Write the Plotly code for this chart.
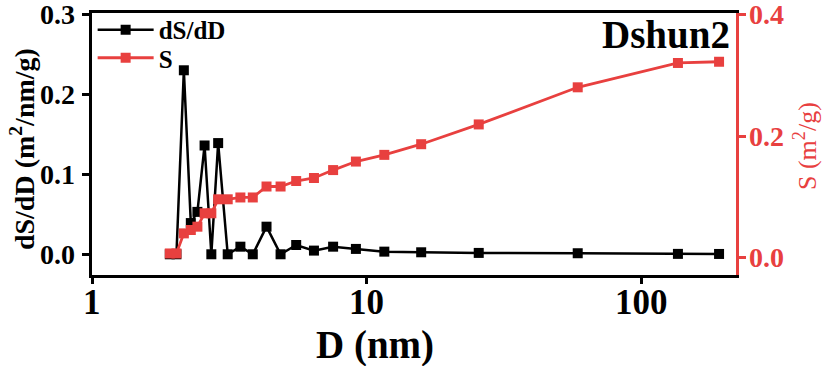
import math
import plotly.graph_objects as go

D = [1.92, 2.03, 2.16, 2.29, 2.42, 2.57, 2.72, 2.88, 3.12, 3.47, 3.85, 4.32, 4.86,
     5.54, 6.43, 7.55, 9.14, 11.6, 15.8, 25.6, 58.7, 136, 192]
dSdD = [0.0, 0.0, 0.230, 0.039, 0.053, 0.136, 0.0, 0.139, 0.0, 0.0095, 0.0, 0.0345, 0.0,
        0.0116, 0.0046, 0.0095, 0.0067, 0.0033, 0.0025, 0.0017, 0.0013, 0.0005, 0.0004]
S = [0.007, 0.007, 0.040, 0.0455, 0.051, 0.073, 0.073, 0.096, 0.096, 0.099, 0.099, 0.117,
     0.117, 0.126, 0.131, 0.144, 0.158, 0.169, 0.1865, 0.219, 0.280, 0.320, 0.322]

x_ticks = [1, 10, 100]
y1_ticks = [0.0, 0.1, 0.2, 0.3]
y2_ticks = [0.0, 0.2, 0.4]

RED = "#e8403f"
FONT = "Liberation Serif"

fig = go.Figure()
fig.add_trace(go.Scatter(
    x=D, y=dSdD, name="<b>dS/dD</b>", mode="lines+markers",
    line=dict(color="black", width=2.5),
    marker=dict(symbol="square", size=10, color="black"),
    yaxis="y", legend="legend"))
fig.add_trace(go.Scatter(
    x=D, y=S, name="<b>S</b>", mode="lines+markers",
    line=dict(color=RED, width=2.8),
    marker=dict(symbol="square", size=10, color=RED),
    yaxis="y2", legend="legend2"))

annotations = []
for v in x_ticks:
    annotations.append(dict(text=f"<b>{v}</b>", x=math.log10(v), xref="x", y=0, yref="paper",
                            xanchor="center", yanchor="top", yshift=-6, showarrow=False,
                            font=dict(size=35, family=FONT, color="black")))
for v in y1_ticks:
    annotations.append(dict(text=f"<b>{v:.1f}</b>", x=0, xref="paper", y=v, yref="y",
                            xanchor="right", yanchor="middle", xshift=-15, showarrow=False,
                            font=dict(size=28, family=FONT, color="black")))
for v in y2_ticks:
    annotations.append(dict(text=f"<b>{v:.1f}</b>", x=1, xref="paper", y=v, yref="y2",
                            xanchor="left", yanchor="middle", xshift=11, showarrow=False,
                            font=dict(size=28, family=FONT, color=RED)))
annotations += [
    dict(text="<b>dS/dD (m<sup>2</sup>/nm/g)</b>", x=-0.107, y=0.481, xref="paper", yref="paper",
         xanchor="center", yanchor="middle", textangle=-90, showarrow=False,
         font=dict(size=28, family=FONT, color="black")),
    dict(text="S (m<sup>2</sup>/g)", x=1.107, y=0.492, xref="paper", yref="paper",
         xanchor="center", yanchor="middle", textangle=-90, showarrow=False,
         font=dict(size=26, family=FONT, color=RED)),
    dict(text="<b>D (nm)</b>", x=0.4394, y=-0.267, xref="paper", yref="paper",
         xanchor="center", yanchor="middle", showarrow=False,
         font=dict(size=39, family=FONT, color="black")),
    dict(text="<b>Dshun2</b>", x=1.0, y=1.0, xref="paper", yref="paper",
         xanchor="right", yanchor="top", xshift=-4, yshift=2, showarrow=False,
         font=dict(size=39, family=FONT, color="black")),
]

leg_common = dict(xanchor="left", yanchor="top", bgcolor="rgba(0,0,0,0)",
                  font=dict(size=25, family=FONT), itemwidth=56)

fig.update_layout(
    width=827, height=366,
    margin=dict(l=92, r=91, t=13, b=91, autoexpand=False),
    paper_bgcolor="white", plot_bgcolor="white",
    font=dict(family=FONT, color="black"),
    showlegend=True,
    legend=dict(x=0.001, y=1.023, **leg_common),
    legend2=dict(x=0.001, y=0.916, **leg_common),
    xaxis=dict(
        type="log", range=[0, 2.345], automargin=False, showticklabels=False,
        tickvals=x_ticks,
        showline=True, linecolor="black", linewidth=2.5, mirror=True,
        ticks="outside", ticklen=6, tickwidth=2.5, tickcolor="black",
        showgrid=False, zeroline=False,
    ),
    yaxis=dict(
        range=[-0.0259, 0.3016], automargin=False, showticklabels=False,
        tickvals=y1_ticks,
        showline=True, linecolor="black", linewidth=2.5,
        ticks="outside", ticklen=7, tickwidth=2.5, tickcolor="black",
        showgrid=False, zeroline=False,
    ),
    yaxis2=dict(
        overlaying="y", side="right", automargin=False, showticklabels=False,
        range=[-0.0284, 0.4021],
        tickvals=y2_ticks,
        showline=True, linecolor=RED, linewidth=2.5,
        ticks="outside", ticklen=7, tickwidth=2.5, tickcolor=RED,
        showgrid=False, zeroline=False,
    ),
    annotations=annotations,
)

fig.write_html("out.html", config={"responsive": False, "displayModeBar": False},
               post_script="document.body.style.margin='0';document.body.style.overflow='hidden';")
